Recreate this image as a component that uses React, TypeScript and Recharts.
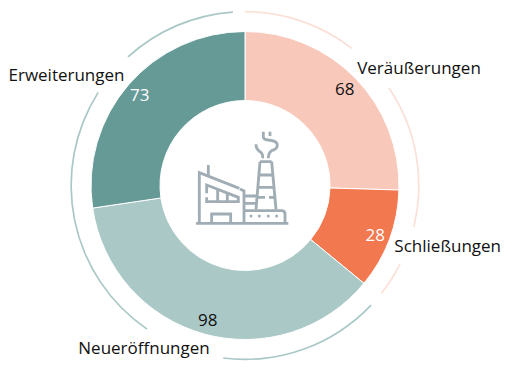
import React from "react";
import { PieChart, Pie, Cell } from "recharts";

const categories = ["Veräußerungen", "Schließungen", "Neueröffnungen", "Erweiterungen"];
const values = [68, 28, 98, 73];
const sliceColors = ["#F8C9BA", "#F27850", "#A9C8C6", "#659A97"];
const valueColors = ["#111111", "#ffffff", "#111111", "#ffffff"];
const nameOffsets = [
  [174, -118.5],
  [202.7, 60],
  [-101, 162],
  [-178.5, -111.5],
];

// Decorative outer ring: arc spans in degrees, clockwise from 12 o'clock, alternating with gaps
const ringSpans = [37.9, 18, 47.9, 13.1, 11.4, 5.2, 53.7, 27.1, 88.1, 15.3, 38.3, 4];
const ringColors = ["#FBE0D8", "none", "#FBE0D8", "none", "#FBE0D8", "none", "#A9C8C6", "none", "#A9C8C6", "none", "#A9C8C6", "none"];

const sliceData = categories.map((name, i) => ({ name, value: values[i] }));
const ringData = ringSpans.map((value, i) => ({ name: `arc${i}`, value }));

const FONT = "'Open Sans', sans-serif";
const RAD = Math.PI / 180;

const renderLabel = (p: any) => {
  const { cx, cy, midAngle, index, value } = p;
  const r = 139;
  const x = cx + r * Math.cos(-midAngle * RAD);
  const y = cy + r * Math.sin(-midAngle * RAD);
  const [dx, dy] = nameOffsets[index];
  return (
    <g key={index}>
      <text x={x} y={y} textAnchor="middle" dominantBaseline="central" fontFamily={FONT} fontSize={17} fill={valueColors[index]}>
        {value}
      </text>
      <text x={cx + dx} y={cy + dy} textAnchor="middle" dominantBaseline="central" fontFamily={FONT} fontSize={17} fill="#111111">
        {categories[index]}
      </text>
    </g>
  );
};

const FactoryIcon = () => (
  <g transform="translate(170 110) scale(0.3333)" fill="none" stroke="#A0ADB4" strokeWidth={8.5}>
    <path d="M78 340 H355" />
    <path d="M88 340 V188 L208 235" />
    <path d="M115 165 V195" />
    <path d="M210 237 L222 243 V340" />
    <path d="M110 250 V225 L205 262 V275 H110 V262" />
    <path d="M143 238 V275 M172 250 V275" />
    <path d="M125 340 V312 H182 V340" />
    <path d="M222 258 H262 M222 280 H260" />
    <path d="M222 302 H335 Q345 302 345 312 V340" />
    <path d="M270 155 H305 M270 155 L258 298 M305 155 L318 298" />
    <path d="M268 195 H308 M265 232 H312 M262 262 H285 M297 262 H313" />
    <path d="M280 65 V80 Q280 88 295 90 Q322 92 322 105 Q322 118 305 122 Q295 128 295 145" />
    <path d="M300 65 V78" />
    <path d="M258 103 Q258 118 270 125 Q280 132 278 145" />
    <g fill="#A0ADB4" stroke="none">
      <circle cx={243} cy={318} r={4.5} />
      <circle cx={268} cy={318} r={4.5} />
      <circle cx={295} cy={318} r={4.5} />
      <circle cx={320} cy={318} r={4.5} />
    </g>
  </g>
);

export default function App() {
  return (
    <div style={{ position: "absolute", left: 0, top: 0, width: 514, height: 374, background: "#fff" }}>
      <PieChart width={514} height={374} margin={{ top: 0, right: 0, bottom: 0, left: 0 }}>
        <Pie
          data={ringData}
          dataKey="value"
          cx={245}
          cy={185.5}
          innerRadius={173}
          outerRadius={174.7}
          startAngle={90}
          endAngle={-270}
          stroke="none"
          isAnimationActive={false}
          legendType="none"
        >
          {ringData.map((d, i) => (
            <Cell key={d.name} fill={ringColors[i]} stroke="none" />
          ))}
        </Pie>
        <Pie
          data={sliceData}
          dataKey="value"
          cx={245}
          cy={185.5}
          innerRadius={85}
          outerRadius={154}
          startAngle={90}
          endAngle={-270}
          stroke="#ffffff"
          strokeWidth={1}
          isAnimationActive={false}
          label={renderLabel}
          labelLine={false}
        >
          {sliceData.map((d, i) => (
            <Cell key={d.name} fill={sliceColors[i]} />
          ))}
        </Pie>
        <FactoryIcon />
      </PieChart>
    </div>
  );
}
